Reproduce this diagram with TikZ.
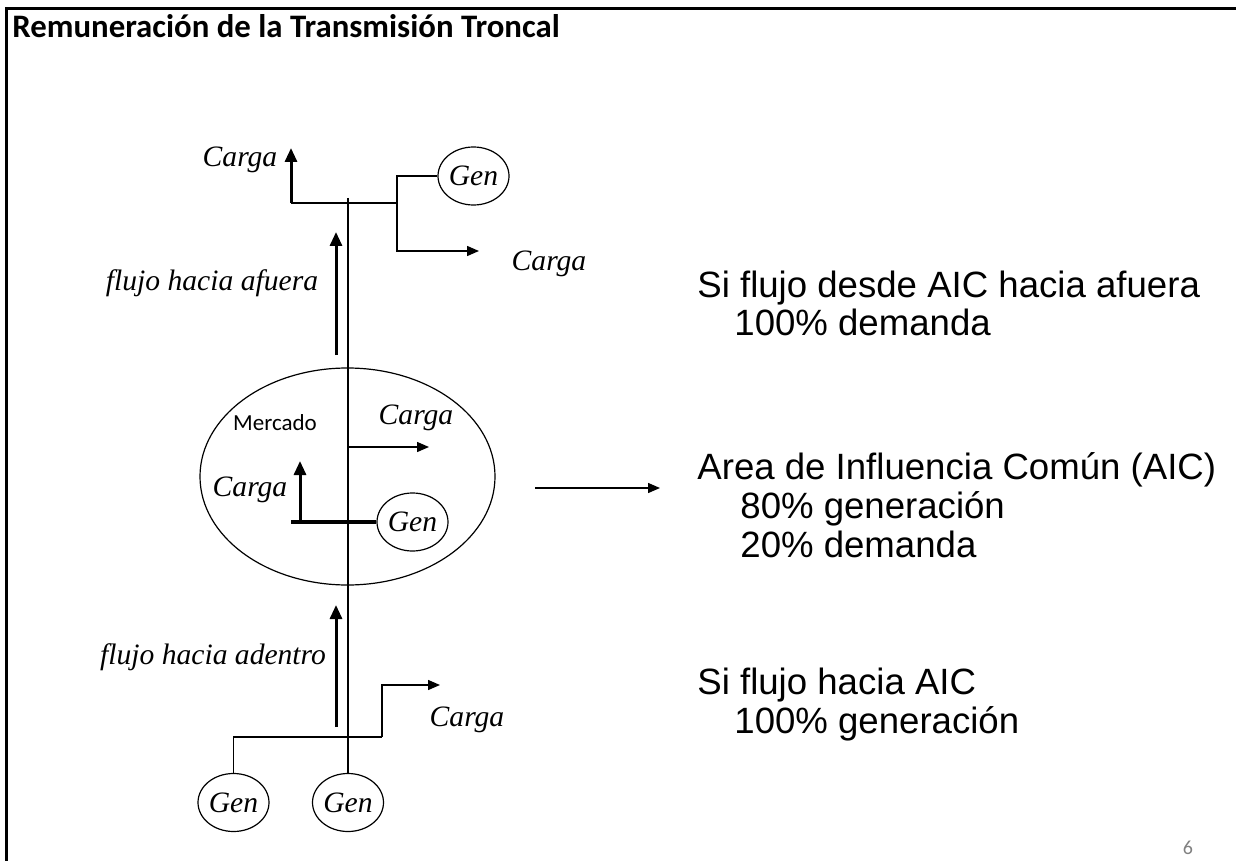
\documentclass[tikz,border=0pt]{standalone}
\usepackage{fontspec}
\setmainfont{Liberation Serif}
\newfontfamily\calibri{Carlito}
\newfontfamily\arial{Liberation Sans}
\usetikzlibrary{shapes.geometric,arrows.meta}
\tikzset{
  lbl/.style={font=\fontsize{14.8}{16}\selectfont\itshape, inner sep=0pt},
  gen/.style={ellipse, draw, line width=0.6pt, inner sep=0pt, minimum width=35.5pt, minimum height=29pt, lbl},
  wire/.style={line width=0.6pt},
  load/.style={line width=0.7pt, -{Triangle[length=6pt,width=5pt]}},
  flow/.style={line width=1.5pt, -{Triangle[length=7pt,width=6pt]}},
  rtext/.style={font=\arial\fontsize{18.3}{19.5}\selectfont, anchor=base west, inner sep=0pt},
}

\begin{document}
\begin{tikzpicture}[x=0.5pt,y=-0.5pt]
  \useasboundingbox (0,0) rectangle (1236,861);
  % marco
  \draw[line width=1.5pt] (1236,9) -- (6,9) -- (6,861);
  \node[font=\calibri\bfseries\fontsize{16.4}{19}\selectfont, anchor=base west, inner sep=0pt] (title) at (12,38) {Remuneración de la Transmisión Troncal};

  %%%%% barra de arriba
  \coordinate (busAw) at (291,203);
  \coordinate (busAe) at (397,203);
  \coordinate (busAtop) at (348,198);
  \node[lbl] (cargaA) at (240,160) {Carga};
  \coordinate (cargaAtip) at (291,148);
  \node[gen] (genA) at (473.5,176) {Gen};
  \node[lbl] (cargaB) at (549,264) {Carga};
  \coordinate (cargaBtip) at (479,251);
  \draw[wire] (busAw) -- (busAe);
  \draw[flow] (busAw) -- (cargaAtip);
  \draw[wire] (busAe) |- (genA.west);
  \draw[load] (busAe) |- (cargaBtip);
  % flujo hacia afuera
  \coordinate (outS) at (336,355);
  \coordinate (outE) at (336,232);
  \draw[flow] (outS) -- (outE);
  \node[lbl] (outlbl) at (212,283) {flujo hacia afuera};

  %%%%% Mercado
  \node[ellipse, draw, line width=0.6pt, minimum width=147.5pt, minimum height=108.5pt] (mercado) at (347.5,476.5) {};
  \node[font=\calibri\fontsize{11.5}{13}\selectfont, inner sep=0pt] (mlbl) at (275,423) {Mercado};
  \node[lbl] (cargaC) at (416,418) {Carga};
  \coordinate (cargaCs) at (348,447);
  \coordinate (cargaCtip) at (429,447);
  \draw[load] (cargaCs) -- (cargaCtip);
  \node[gen] (genB) at (412.5,522) {Gen};
  \coordinate (busBw) at (291,522);
  \draw[line width=2.4pt] (busBw) -- (genB.west);
  \coordinate (busBup) at (300,522);
  \coordinate (cargaDtip) at (300,461);
  \draw[flow] (busBup) -- (cargaDtip);
  \node[lbl] (cargaD) at (250,490) {Carga};

  %%%%% barra de abajo
  \node[gen] (genC) at (233.5,802.5) {Gen};
  \node[gen] (genD) at (348,802.5) {Gen};
  \draw[wire] (busAtop) -- (genD.north);
  \coordinate (busCe) at (382,737);
  \draw[wire] (genC.north) |- (busCe);
  \coordinate (cargaEtip) at (440,685);
  \draw[load] (busCe) |- (cargaEtip);
  \node[lbl] (cargaE) at (467,720) {Carga};
  % flujo hacia adentro
  \coordinate (inS) at (336,727);
  \coordinate (inE) at (336,605);
  \draw[flow] (inS) -- (inE);
  \node[lbl] (inlbl) at (213,657) {flujo hacia adentro};

  %%%%% textos
  \node[rtext] (siA) at (697,297) {Si flujo desde AIC hacia afuera};
  \node[rtext] (siAd) at (734,335) {100\% demanda};
  \coordinate (aicS) at (535,488);
  \coordinate (aicE) at (660,488);
  \draw[load] (aicS) -- (aicE);
  \node[rtext] (aic) at (697,479) {Area de Influencia Común (AIC)};
  \node[rtext] (aicG) at (740,518) {80\% generación};
  \node[rtext] (aicD) at (740,557) {20\% demanda};
  \node[rtext] (siC) at (697,694) {Si flujo hacia AIC};
  \node[rtext] (siCg) at (734,733) {100\% generación};

  \node[font=\calibri\fontsize{10}{12}\selectfont, text=gray, anchor=base, inner sep=0pt] (pnum) at (1188,854) {6};
\end{tikzpicture}
\end{document}
